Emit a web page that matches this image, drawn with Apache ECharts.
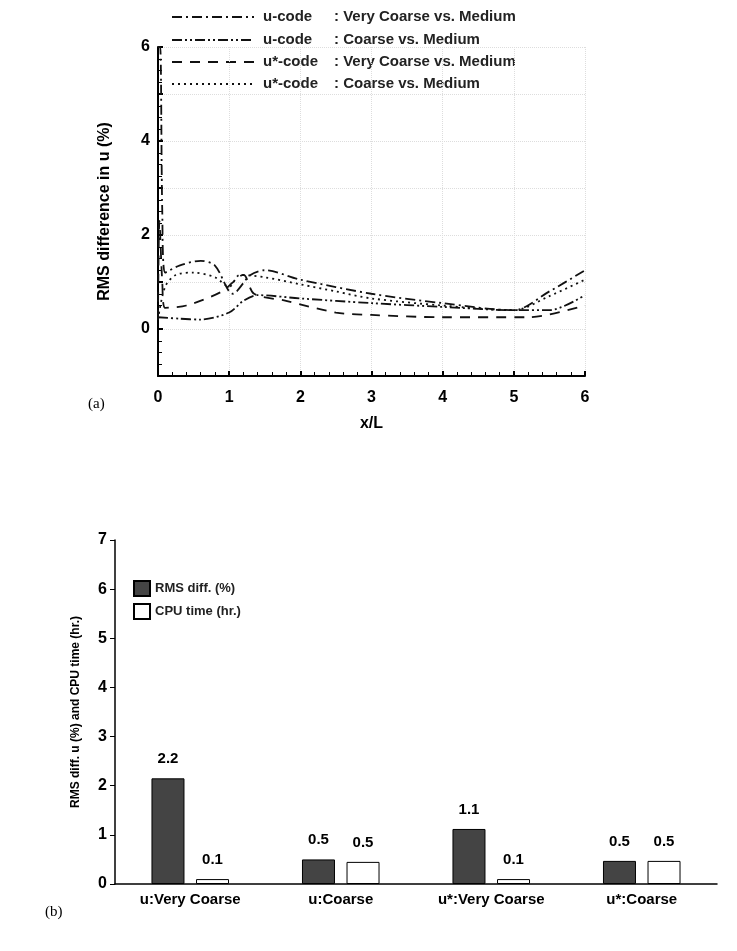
<!DOCTYPE html>
<html><head><meta charset="utf-8">
<script src="https://cdn.jsdelivr.net/npm/echarts@6/dist/echarts.min.js"></script>
<style>body{margin:0}#c{width:737px;height:951px}</style></head>
<body><div id="c"></div>
<script>
const s1 = [[0,6],[0.03,6],[0.06,2.5],[0.1,1.2],[0.3,1.35],[0.6,1.45],[0.8,1.35],[1.05,0.75],[1.3,1.15],[1.5,1.25],[2,1.05],[3,0.75],[4,0.55],[5,0.4],[5.5,0.8],[6,1.25]];
const s2 = [[0,0.25],[0.3,0.22],[0.6,0.2],[1.0,0.35],[1.2,0.6],[1.4,0.72],[2,0.65],[3,0.55],[4,0.47],[5,0.4],[5.5,0.4],[6,0.72]];
const s3 = [[0,0.2],[0.02,2.3],[0.06,1.0],[0.1,0.45],[0.4,0.5],[0.9,0.8],[1.2,1.15],[1.35,0.75],[1.8,0.6],[2.5,0.35],[3,0.3],[4,0.25],[5.2,0.25],[6,0.5]];
const s4 = [[0,0.2],[0.1,0.9],[0.25,1.15],[0.5,1.2],[0.8,1.1],[1.0,0.9],[1.15,1.15],[1.5,1.1],[2,0.95],[2.5,0.8],[3,0.65],[4,0.5],[5,0.4],[5.5,0.7],[6,1.05]];
const codes = ['u-code','u-code','u*-code','u*-code'];
const descs = [': Very Coarse vs. Medium',': Coarse vs. Medium',': Very Coarse vs. Medium',': Coarse vs. Medium'];
const cats = ['u:Very Coarse','u:Coarse','u*:Very Coarse','u*:Coarse'];
const rms = [2.15,0.5,1.12,0.47];
const cpu = [0.1,0.45,0.1,0.47];
const rmsLab = ['2.2','0.5','1.1','0.5'];
const cpuLab = ['0.1','0.5','0.1','0.5'];
const F='Liberation Sans';
const dashes=[[10,4,2,4],[10,3,2,3,2,3],[10,8],[2,4]];
const c=echarts.init(document.getElementById('c'));
const tx={fontFamily:F,fontWeight:'bold',fontSize:16,color:'#000'};
const g=[{type:'text',left:88,top:397,style:{text:'(a)',font:'15px Liberation Serif',fill:'#000'}},
   {type:'text',left:45,top:905,style:{text:'(b)',font:'15px Liberation Serif',fill:'#000'}}];
const ly=[17,40,62,84];
codes.forEach((cd,i)=>{
 g.push({type:'line',shape:{x1:172,y1:ly[i],x2:254,y2:ly[i]},style:{stroke:'#111',lineWidth:1.8,lineDash:dashes[i]}});
 g.push({type:'text',x:263,y:ly[i],style:{text:cd,font:'bold 15px Liberation Sans',fill:'#222',textVerticalAlign:'middle'}});
 g.push({type:'text',x:334,y:ly[i],style:{text:descs[i],font:'bold 15px Liberation Sans',fill:'#222',textVerticalAlign:'middle'}});
});
c.setOption({
 animation:false,
 textStyle:{fontFamily:F},
 legend:[{data:['RMS diff. (%)','CPU time (hr.)'],top:575,left:128,orient:'vertical',itemGap:6,itemWidth:16,itemHeight:15,icon:'rect',
   textStyle:{fontFamily:F,fontWeight:'bold',fontSize:13,color:'#222'}}],
 grid:[{left:158,right:152,top:47,bottom:575},{left:115,right:20,top:540,bottom:67}],
 xAxis:[{gridIndex:0,type:'value',min:0,max:6,interval:1,name:'x/L',nameLocation:'middle',nameGap:40,nameTextStyle:tx,
   axisLine:{onZero:false,lineStyle:{color:'#000',width:2}},axisTick:{inside:true,lineStyle:{color:'#000',width:2}},minorTick:{show:true,splitNumber:5,length:4,lineStyle:{color:'#000'}},
   axisLabel:{margin:14,fontFamily:F,fontWeight:'bold',fontSize:16,color:'#000'},splitLine:{show:true,lineStyle:{color:'#ddd',type:'dotted'}}},
  {gridIndex:1,type:'category',data:cats,axisLine:{lineStyle:{color:'#000',width:1.5}},axisTick:{show:false},
   axisLabel:{fontFamily:F,fontWeight:'bold',fontSize:15,color:'#000',interval:0}}],
 yAxis:[{gridIndex:0,type:'value',min:-1,max:6,interval:1,name:'RMS difference in u (%)',nameLocation:'middle',nameGap:45,nameTextStyle:tx,
   axisLine:{onZero:false,lineStyle:{color:'#000',width:2}},axisTick:{inside:true,lineStyle:{color:'#000',width:2}},minorTick:{show:true,splitNumber:4,length:4,lineStyle:{color:'#000'}},
   axisLabel:{fontFamily:F,fontWeight:'bold',fontSize:16,color:'#000',formatter:v=>v%2===0?v:''},splitLine:{show:true,lineStyle:{color:'#ddd',type:'dotted'}}},
  {gridIndex:1,type:'value',min:0,max:7,interval:1,name:'RMS diff. u (%) and CPU time (hr.)',nameLocation:'middle',nameGap:33,
   nameTextStyle:{fontFamily:F,fontWeight:'bold',fontSize:12,color:'#000'},
   axisLine:{show:true,lineStyle:{color:'#000',width:1.5}},axisTick:{show:true,lineStyle:{color:'#000'}},
   axisLabel:{fontFamily:F,fontWeight:'bold',fontSize:16,color:'#000'},splitLine:{show:false}}],
 series:[s1,s2,s3,s4].map((d,i)=>({name:codes[i]+descs[i]+i,type:'line',xAxisIndex:0,yAxisIndex:0,data:d,smooth:0.3,showSymbol:false,
   lineStyle:{color:'#111',width:1.8,type:dashes[i]},itemStyle:{color:'#111'}})).concat([
  {name:'RMS diff. (%)',type:'bar',xAxisIndex:1,yAxisIndex:1,data:rms,barWidth:33,barGap:'35%',
   itemStyle:{color:'#444',borderColor:'#000',borderWidth:1},
   label:{show:true,position:'top',distance:12,formatter:p=>rmsLab[p.dataIndex],fontFamily:F,fontWeight:'bold',fontSize:15,color:'#000'}},
  {name:'CPU time (hr.)',type:'bar',xAxisIndex:1,yAxisIndex:1,data:cpu,barWidth:33,
   itemStyle:{color:'#fff',borderColor:'#000',borderWidth:1},
   label:{show:true,position:'top',distance:12,formatter:p=>cpuLab[p.dataIndex],fontFamily:F,fontWeight:'bold',fontSize:15,color:'#000'}}]),
 graphic:g
});
</script></body></html>
